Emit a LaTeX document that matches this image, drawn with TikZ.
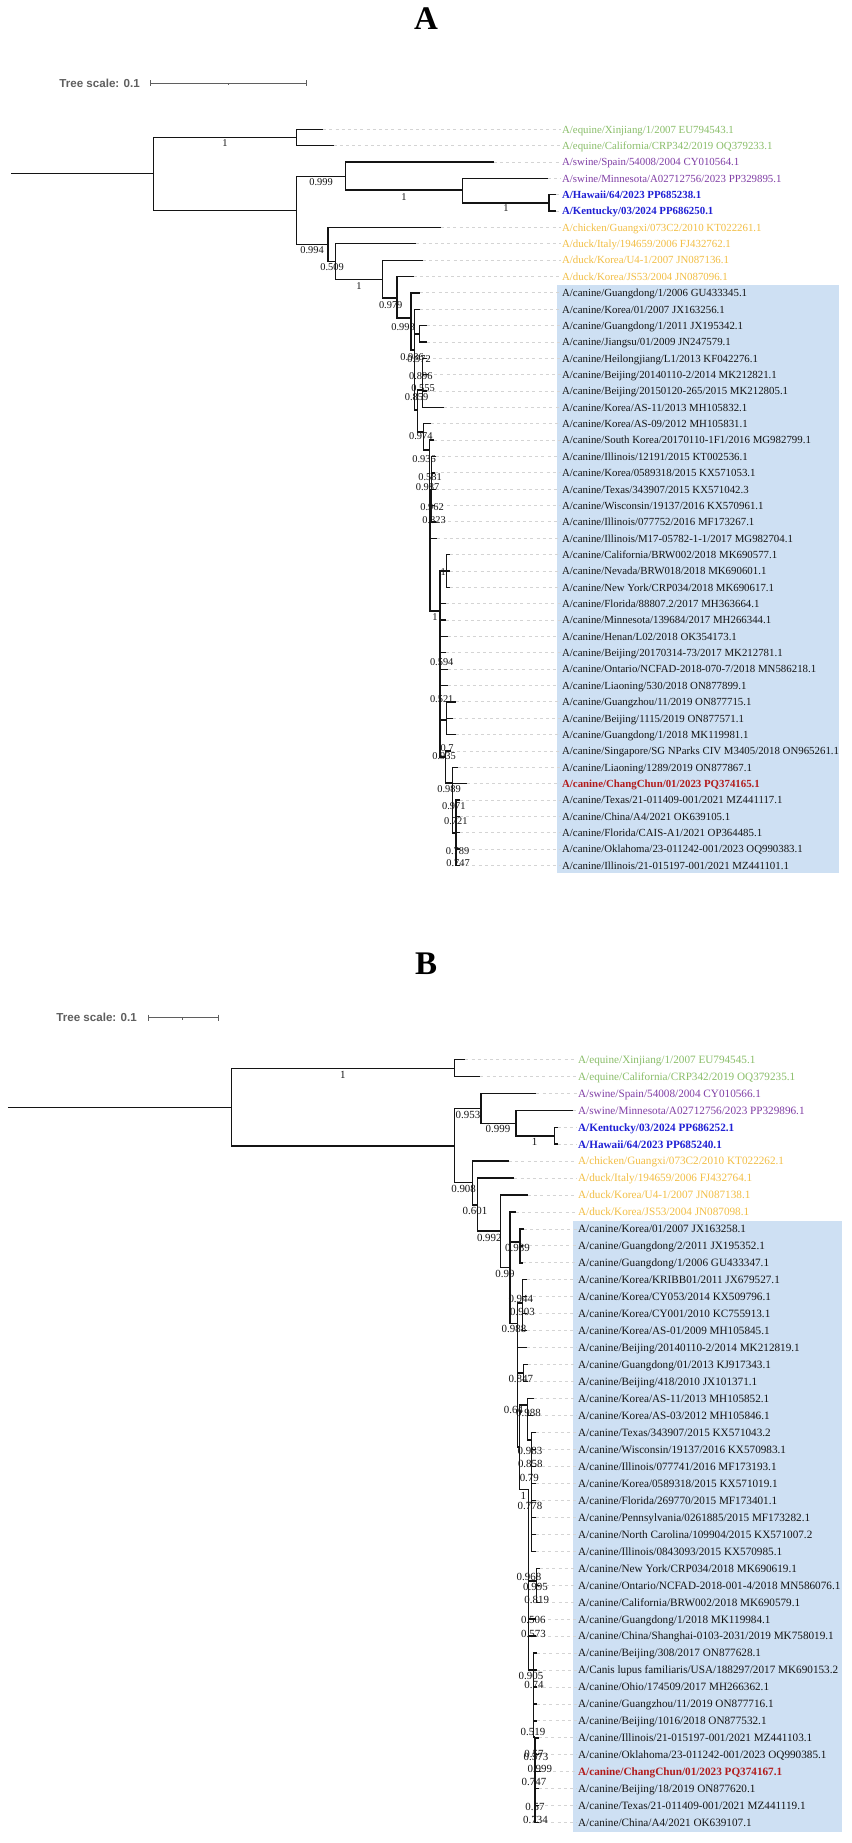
\documentclass[tikz,border=0pt]{standalone}
\usepackage{fontspec}
\setmainfont{Liberation Serif}
\newfontfamily\treesans{Liberation Sans}
\usetikzlibrary{calc}
\definecolor{eqgreen}{RGB}{138,190,105}
\definecolor{swpurple}{RGB}{128,62,165}
\definecolor{hublue}{RGB}{32,32,212}
\definecolor{avyellow}{RGB}{242,190,68}
\definecolor{cnred}{RGB}{178,28,28}
\definecolor{boxblue}{RGB}{206,224,243}
\definecolor{leadgray}{RGB}{212,212,212}
\definecolor{scalegray}{RGB}{95,95,95}
\definecolor{inkblack}{RGB}{20,20,20}
\newcommand\labA{\fontsize{10.85}{13}\selectfont}
\newcommand\labB{\fontsize{11.2}{13}\selectfont}
\newcommand\bsfA{\fontsize{10.4}{12}\selectfont}
\newcommand\bsfB{\fontsize{10.9}{12}\selectfont}
\tikzset{
  branch/.style={line width=1.3pt, draw=inkblack},
  leader/.style={draw=leadgray, line width=0.9pt, dash pattern=on 3pt off 3.2pt},
  lab/.style={anchor=base west, inner sep=1.2pt},
  bsA/.style={inner sep=0pt, font=\bsfA, text=inkblack},
  bsB/.style={inner sep=0pt, font=\bsfB, text=inkblack},
  scaletxt/.style={anchor=east, inner sep=0pt, text=scalegray, font=\treesans\bfseries\fontsize{11.6}{13}\selectfont},
  scalebar/.style={draw=scalegray, line width=1pt},
  title/.style={inner sep=0pt, font=\fontsize{33}{36}\selectfont\bfseries}
}
\newcommand\lfA[4]{%
  \coordinate (A-L#1) at (#2,{129.3+(#1-1)*16.36});
  \node[lab,text=#3] (A-T#1) at (560.7,{129.3+(#1-1)*16.36+3.8}) {\labA #4};
  \draw[leader] (A-L#1) -- (A-L#1 -| A-T#1.west);
}
\newcommand\lfB[4]{%
  \coordinate (B-L#1) at (#2,{1059.3+(#1-1)*16.964});
  \node[lab,text=#3] (B-T#1) at (576.7,{1059.3+(#1-1)*16.964+3.9}) {\labB #4};
  \draw[leader] (B-L#1) -- (B-L#1 -| B-T#1.west);
}
\newcommand\kids[2]{\foreach \c in {#2}{\draw[branch] (#1) |- (\c);}}
\begin{document}
\begin{tikzpicture}[x=1pt,y=-1pt]
\useasboundingbox (0,0) rectangle (851,1843);
\fill[white] (0,0) rectangle (851,1843);

% ================= Panel A =================
\node[title] (titleA) at (426,19) {A};
\node[scaletxt] (scA) at (140,83.5) {Tree scale: 0.1};
\coordinate (sA1) at (150.7,83.5);
\coordinate (sA2) at (306,83.5);
\coordinate (sAm) at (228.5,83.5);
\draw[scalebar] (sA1) -- (sA2);
\draw[scalebar] ($(sA1)+(0,-3)$) -- ($(sA1)+(0,3)$);
\draw[scalebar] ($(sA2)+(0,-3)$) -- ($(sA2)+(0,3)$);
\draw[scalebar] (sAm) -- ($(sAm)+(0,2)$);

\fill[boxblue] (557.3,284.7) rectangle (839,873);

\lfA{1}{323.2}{eqgreen}{A/equine/Xinjiang/1/2007 EU794543.1}
\lfA{2}{333.6}{eqgreen}{A/equine/California/CRP342/2019 OQ379233.1}
\lfA{3}{493.6}{swpurple}{A/swine/Spain/54008/2004 CY010564.1}
\lfA{4}{548}{swpurple}{A/swine/Minnesota/A02712756/2023 PP329895.1}
\lfA{5}{556}{hublue}{\bfseries A/Hawaii/64/2023 PP685238.1}
\lfA{6}{556}{hublue}{\bfseries A/Kentucky/03/2024 PP686250.1}
\lfA{7}{441}{avyellow}{A/chicken/Guangxi/073C2/2010 KT022261.1}
\lfA{8}{416.4}{avyellow}{A/duck/Italy/194659/2006 FJ432762.1}
\lfA{9}{422.5}{avyellow}{A/duck/Korea/U4-1/2007 JN087136.1}
\lfA{10}{413.6}{avyellow}{A/duck/Korea/JS53/2004 JN087096.1}
\lfA{11}{420}{inkblack}{A/canine/Guangdong/1/2006 GU433345.1}
\lfA{12}{420}{inkblack}{A/canine/Korea/01/2007 JX163256.1}
\lfA{13}{426.7}{inkblack}{A/canine/Guangdong/1/2011 JX195342.1}
\lfA{14}{426.7}{inkblack}{A/canine/Jiangsu/01/2009 JN247579.1}
\lfA{15}{427}{inkblack}{A/canine/Heilongjiang/L1/2013 KF042276.1}
\lfA{16}{428}{inkblack}{A/canine/Beijing/20140110-2/2014 MK212821.1}
\lfA{17}{427}{inkblack}{A/canine/Beijing/20150120-265/2015 MK212805.1}
\lfA{18}{444}{inkblack}{A/canine/Korea/AS-11/2013 MH105832.1}
\lfA{19}{431}{inkblack}{A/canine/Korea/AS-09/2012 MH105831.1}
\lfA{20}{434.3}{inkblack}{A/canine/South Korea/20170110-1F1/2016 MG982799.1}
\lfA{21}{436}{inkblack}{A/canine/Illinois/12191/2015 KT002536.1}
\lfA{22}{435}{inkblack}{A/canine/Korea/0589318/2015 KX571053.1}
\lfA{23}{436}{inkblack}{A/canine/Texas/343907/2015 KX571042.3}
\lfA{24}{435}{inkblack}{A/canine/Wisconsin/19137/2016 KX570961.1}
\lfA{25}{436}{inkblack}{A/canine/Illinois/077752/2016 MF173267.1}
\lfA{26}{437.3}{inkblack}{A/canine/Illinois/M17-05782-1-1/2017 MG982704.1}
\lfA{27}{449.5}{inkblack}{A/canine/California/BRW002/2018 MK690577.1}
\lfA{28}{449.5}{inkblack}{A/canine/Nevada/BRW018/2018 MK690601.1}
\lfA{29}{449.5}{inkblack}{A/canine/New York/CRP034/2018 MK690617.1}
\lfA{30}{446}{inkblack}{A/canine/Florida/88807.2/2017 MH363664.1}
\lfA{31}{446}{inkblack}{A/canine/Minnesota/139684/2017 MH266344.1}
\lfA{32}{448}{inkblack}{A/canine/Henan/L02/2018 OK354173.1}
\lfA{33}{446}{inkblack}{A/canine/Beijing/20170314-73/2017 MK212781.1}
\lfA{34}{448}{inkblack}{A/canine/Ontario/NCFAD-2018-070-7/2018 MN586218.1}
\lfA{35}{448}{inkblack}{A/canine/Liaoning/530/2018 ON877899.1}
\lfA{36}{456}{inkblack}{A/canine/Guangzhou/11/2019 ON877715.1}
\lfA{37}{453}{inkblack}{A/canine/Beijing/1115/2019 ON877571.1}
\lfA{38}{456}{inkblack}{A/canine/Guangdong/1/2018 MK119981.1}
\lfA{39}{451}{inkblack}{A/canine/Singapore/SG NParks CIV M3405/2018 ON965261.1}
\lfA{40}{458}{inkblack}{A/canine/Liaoning/1289/2019 ON877867.1}
\lfA{41}{467.3}{cnred}{\bfseries A/canine/ChangChun/01/2023 PQ374165.1}
\lfA{42}{460}{inkblack}{A/canine/Texas/21-011409-001/2021 MZ441117.1}
\lfA{43}{460}{inkblack}{A/canine/China/A4/2021 OK639105.1}
\lfA{44}{460}{inkblack}{A/canine/Florida/CAIS-A1/2021 OP364485.1}
\lfA{45}{460}{inkblack}{A/canine/Oklahoma/23-011242-001/2023 OQ990383.1}
\lfA{46}{460}{inkblack}{A/canine/Illinois/21-015197-001/2021 MZ441101.1}

\coordinate (A-R) at (11.4,173.7);
\coordinate (A-N1) at (153.6,173.7);
\coordinate (A-E) at (296.4,137.3);
\coordinate (A-N2) at (296.4,210.3);
\coordinate (A-N3) at (345.7,176.3);
\coordinate (A-N4) at (462.5,190);
\coordinate (A-N5) at (549,203);
\coordinate (A-N6) at (327.9,244.3);
\coordinate (A-N7) at (335.7,261.7);
\coordinate (A-N8) at (382.5,279.3);
\coordinate (A-N9) at (397,298);
\coordinate (A-N10) at (411,318);
\coordinate (A-N11) at (414.3,350);
\coordinate (A-C3) at (419.3,334);
\coordinate (A-N12) at (417.7,410);
\coordinate (A-N13) at (422.7,390);
\coordinate (A-N14) at (423.3,432);
\coordinate (A-N15) at (429.3,450);
\coordinate (A-M1) at (430,530);
\coordinate (A-N16) at (431.7,490);
\coordinate (A-N17) at (440,611);
\coordinate (A-C27) at (446.7,571);
\coordinate (A-N19) at (446.7,720);
\coordinate (A-N20) at (445.7,757);
\coordinate (A-N21) at (452.7,783);
\coordinate (A-N22) at (456,833);

\draw[branch] (A-R) -- (A-N1);
\kids{A-N1}{A-E,A-N2}
\kids{A-E}{A-L1,A-L2}
\kids{A-N2}{A-N3,A-N6}
\kids{A-N3}{A-L3,A-N4}
\kids{A-N4}{A-L4,A-N5}
\kids{A-N5}{A-L5,A-L6}
\kids{A-N6}{A-L7,A-N7}
\kids{A-N7}{A-L8,A-N8}
\kids{A-N8}{A-L9,A-N9}
\kids{A-N9}{A-L10,A-N10}
\kids{A-N10}{A-L11,A-N11}
\kids{A-N11}{A-L12,A-C3,A-N12}
\kids{A-C3}{A-L13,A-L14}
\kids{A-N12}{A-N13,A-N14}
\kids{A-N13}{A-L15,A-L16,A-L17,A-L18}
\kids{A-N14}{A-L19,A-N15}
\kids{A-N15}{A-L20,A-M1}
\kids{A-M1}{A-N16,A-L26,A-N17}
\kids{A-N16}{A-L21,A-L22,A-L23,A-L24,A-L25}
\kids{A-N17}{A-C27,A-L30,A-L31,A-L32,A-L33,A-L34,A-L35,A-N19,A-N20}
\kids{A-C27}{A-L27,A-L28,A-L29}
\kids{A-N19}{A-L36,A-L37,A-L38}
\kids{A-N20}{A-L39,A-N21}
\kids{A-N21}{A-L40,A-L41,A-N22}
\kids{A-N22}{A-L42,A-L43,A-L44,A-L45,A-L46}

\foreach \x/\y/\t [count=\i] in {225/143.3/1, 321/182/0.999, 404/196.7/1, 506/208/1,
  312/250/0.994, 332/267/0.509, 359/285.7/1, 390.7/304.7/0.979, 403/326.7/0.998,
  412/357/0.986, 419/359/0.972, 420.8/376/0.896, 423/388.3/0.555, 416.5/396.7/0.859,
  420.8/436/0.974, 424/458.7/0.936, 430/477/0.581, 427.5/487.3/0.987, 432/507.3/0.962,
  434/519.7/0.823, 443.3/571.7/1, 435/616.7/1, 441.7/661.7/0.594, 441.7/699.3/0.521,
  447/747.7/0.7, 444/755.7/0.935, 449/789.3/0.989, 453.8/805.7/0.971, 455.8/821/0.721,
  457.5/850.7/0.789, 458/863.3/0.747}
  \node[bsA] (A-b\i) at (\x,\y) {\t};

% ================= Panel B =================
\node[title] (titleB) at (426,963.3) {B};
\node[scaletxt] (scB) at (137,1017.5) {Tree scale: 0.1};
\coordinate (sB1) at (148,1017.5);
\coordinate (sB2) at (218,1017.5);
\coordinate (sBm) at (182,1017.5);
\draw[scalebar] (sB1) -- (sB2);
\draw[scalebar] ($(sB1)+(0,-3)$) -- ($(sB1)+(0,3)$);
\draw[scalebar] ($(sB2)+(0,-3)$) -- ($(sB2)+(0,3)$);
\draw[scalebar] (sBm) -- ($(sBm)+(0,2)$);

\fill[boxblue] (573.3,1221) rectangle (841.7,1831.7);

\lfB{1}{465.4}{eqgreen}{A/equine/Xinjiang/1/2007 EU794545.1}
\lfB{2}{480.4}{eqgreen}{A/equine/California/CRP342/2019 OQ379235.1}
\lfB{3}{536.4}{swpurple}{A/swine/Spain/54008/2004 CY010566.1}
\lfB{4}{573}{swpurple}{A/swine/Minnesota/A02712756/2023 PP329896.1}
\lfB{5}{557.5}{hublue}{\bfseries A/Kentucky/03/2024 PP686252.1}
\lfB{6}{557.5}{hublue}{\bfseries A/Hawaii/64/2023 PP685240.1}
\lfB{7}{509}{avyellow}{A/chicken/Guangxi/073C2/2010 KT022262.1}
\lfB{8}{514.3}{avyellow}{A/duck/Italy/194659/2006 FJ432764.1}
\lfB{9}{527.9}{avyellow}{A/duck/Korea/U4-1/2007 JN087138.1}
\lfB{10}{516}{avyellow}{A/duck/Korea/JS53/2004 JN087098.1}
\lfB{11}{524}{inkblack}{A/canine/Korea/01/2007 JX163258.1}
\lfB{12}{523}{inkblack}{A/canine/Guangdong/2/2011 JX195352.1}
\lfB{13}{522.7}{inkblack}{A/canine/Guangdong/1/2006 GU433347.1}
\lfB{14}{527}{inkblack}{A/canine/Korea/KRIBB01/2011 JX679527.1}
\lfB{15}{527}{inkblack}{A/canine/Korea/CY053/2014 KX509796.1}
\lfB{16}{527}{inkblack}{A/canine/Korea/CY001/2010 KC755913.1}
\lfB{17}{527}{inkblack}{A/canine/Korea/AS-01/2009 MH105845.1}
\lfB{18}{526.7}{inkblack}{A/canine/Beijing/20140110-2/2014 MK212819.1}
\lfB{19}{528}{inkblack}{A/canine/Guangdong/01/2013 KJ917343.1}
\lfB{20}{528}{inkblack}{A/canine/Beijing/418/2010 JX101371.1}
\lfB{21}{534}{inkblack}{A/canine/Korea/AS-11/2013 MH105852.1}
\lfB{22}{533}{inkblack}{A/canine/Korea/AS-03/2012 MH105846.1}
\lfB{23}{536}{inkblack}{A/canine/Texas/343907/2015 KX571043.2}
\lfB{24}{536}{inkblack}{A/canine/Wisconsin/19137/2016 KX570983.1}
\lfB{25}{536}{inkblack}{A/canine/Illinois/077741/2016 MF173193.1}
\lfB{26}{536}{inkblack}{A/canine/Korea/0589318/2015 KX571019.1}
\lfB{27}{536}{inkblack}{A/canine/Florida/269770/2015 MF173401.1}
\lfB{28}{536}{inkblack}{A/canine/Pennsylvania/0261885/2015 MF173282.1}
\lfB{29}{536}{inkblack}{A/canine/North Carolina/109904/2015 KX571007.2}
\lfB{30}{536}{inkblack}{A/canine/Illinois/0843093/2015 KX570985.1}
\lfB{31}{540}{inkblack}{A/canine/New York/CRP034/2018 MK690619.1}
\lfB{32}{540}{inkblack}{A/canine/Ontario/NCFAD-2018-001-4/2018 MN586076.1}
\lfB{33}{540}{inkblack}{A/canine/California/BRW002/2018 MK690579.1}
\lfB{34}{536}{inkblack}{A/canine/Guangdong/1/2018 MK119984.1}
\lfB{35}{536}{inkblack}{A/canine/China/Shanghai-0103-2031/2019 MK758019.1}
\lfB{36}{537}{inkblack}{A/canine/Beijing/308/2017 ON877628.1}
\lfB{37}{537}{inkblack}{A/Canis lupus familiaris/USA/188297/2017 MK690153.2}
\lfB{38}{537}{inkblack}{A/canine/Ohio/174509/2017 MH266362.1}
\lfB{39}{537}{inkblack}{A/canine/Guangzhou/11/2019 ON877716.1}
\lfB{40}{537}{inkblack}{A/canine/Beijing/1016/2018 ON877532.1}
\lfB{41}{539}{inkblack}{A/canine/Illinois/21-015197-001/2021 MZ441103.1}
\lfB{42}{539}{inkblack}{A/canine/Oklahoma/23-011242-001/2023 OQ990385.1}
\lfB{43}{541}{cnred}{\bfseries A/canine/ChangChun/01/2023 PQ374167.1}
\lfB{44}{539}{inkblack}{A/canine/Beijing/18/2019 ON877620.1}
\lfB{45}{539}{inkblack}{A/canine/Texas/21-011409-001/2021 MZ441119.1}
\lfB{46}{539}{inkblack}{A/canine/China/A4/2021 OK639107.1}

\coordinate (B-R) at (7.9,1107.3);
\coordinate (B-N1) at (231.4,1107.3);
\coordinate (B-E) at (454.3,1068.7);
\coordinate (B-N2) at (454.3,1146);
\coordinate (B-N3) at (481.1,1108.7);
\coordinate (B-N4) at (516,1123.3);
\coordinate (B-N5) at (554.6,1136);
\coordinate (B-N6) at (472.5,1182.7);
\coordinate (B-N7) at (477.5,1205);
\coordinate (B-N8) at (500.7,1231);
\coordinate (B-N9) at (510,1267.3);
\coordinate (B-N10) at (520,1242);
\coordinate (B-N11) at (517.7,1323.3);
\coordinate (B-N12) at (522.3,1303);
\coordinate (B-N12b) at (523.3,1373);
\coordinate (B-N14) at (519.3,1447);
\coordinate (B-N15) at (527.7,1405);
\coordinate (B-N15b) at (531.7,1440);
\coordinate (B-N16) at (528.8,1489.3);
\coordinate (B-N17) at (536.7,1581);
\coordinate (B-N18) at (533.3,1670);
\coordinate (B-N19) at (535,1737);

\draw[branch] (B-R) -- (B-N1);
\kids{B-N1}{B-E,B-N2}
\kids{B-E}{B-L1,B-L2}
\kids{B-N2}{B-N3,B-N6}
\kids{B-N3}{B-L3,B-N4}
\kids{B-N4}{B-L4,B-N5}
\kids{B-N5}{B-L5,B-L6}
\kids{B-N6}{B-L7,B-N7}
\kids{B-N7}{B-L8,B-N8}
\kids{B-N8}{B-L9,B-N9}
\kids{B-N9}{B-L10,B-N10,B-N11}
\kids{B-N10}{B-L11,B-L12,B-L13}
\kids{B-N11}{B-N12,B-L18,B-N12b,B-N14}
\kids{B-N12}{B-L14,B-L15,B-L16,B-L17}
\kids{B-N12b}{B-L19,B-L20}
\kids{B-N14}{B-N15,B-N16}
\kids{B-N15}{B-L21,B-L22,B-N15b}
\kids{B-N15b}{B-L23,B-L24,B-L25,B-L26,B-L27,B-L28,B-L29,B-L30}
\kids{B-N16}{B-N17,B-L34,B-L35,B-N18}
\kids{B-N17}{B-L31,B-L32,B-L33}
\kids{B-N18}{B-L36,B-L37,B-L38,B-L39,B-L40,B-N19}
\kids{B-N19}{B-L41,B-L42,B-L43,B-L44,B-L45,B-L46}

\foreach \x/\y/\t [count=\i] in {342.9/1075/1, 468/1115/0.953, 498/1129.3/0.999, 534.6/1142.3/1,
  463.6/1189.3/0.908, 475/1211/0.601, 489.3/1237.7/0.992, 517.5/1248.3/0.989, 505/1274/0.99,
  520.8/1299/0.944, 522.5/1311.7/0.903, 514/1329.3/0.988, 520.8/1379.3/0.847,
  513.5/1410/0.64, 528.5/1413.3/0.988, 530/1451/0.983, 530.3/1464.3/0.858, 529.3/1478.3/0.79,
  523.3/1495.7/1, 530/1505.7/0.778, 529/1577.3/0.968, 535.5/1587.3/0.995, 536.7/1600/0.819,
  533.3/1620/0.506, 533.5/1634/0.573, 531/1675.7/0.905, 534/1685/0.74, 533/1732/0.519,
  534/1754/0.57, 536/1757/0.573, 539.8/1769.3/0.999, 534/1781.7/0.747, 535/1806.7/0.57,
  535.5/1820/0.734}
  \node[bsB] (B-b\i) at (\x,\y) {\t};
\end{tikzpicture}
\end{document}
